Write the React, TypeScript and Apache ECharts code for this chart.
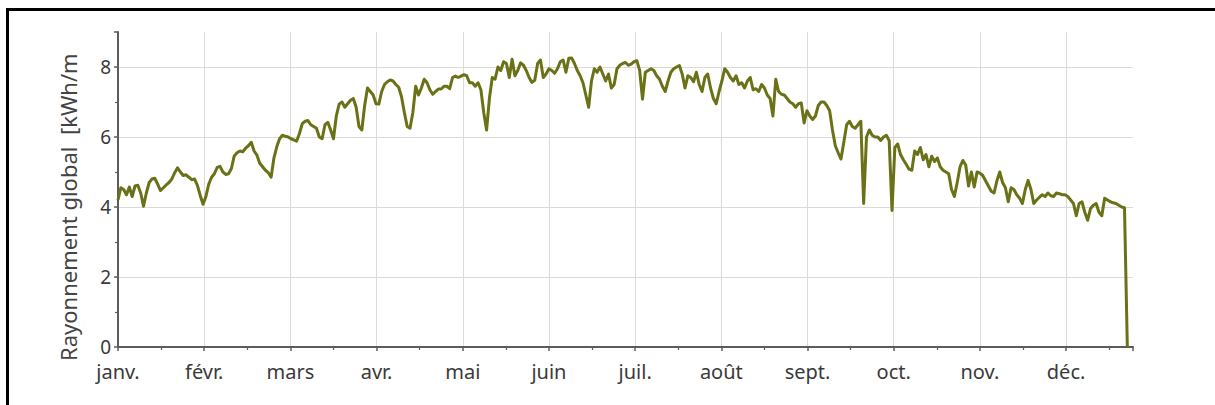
import { useEffect, useRef } from 'react';
import * as echarts from 'echarts';

// Daily global irradiation, kWh/m² per day, grouped by month
const janValues = [4.2, 4.55, 4.5, 4.35, 4.57, 4.3, 4.6, 4.62, 4.4, 4.02, 4.4, 4.7, 4.8, 4.82, 4.65, 4.47, 4.55, 4.63, 4.7, 4.8, 4.98, 5.12, 5.0, 4.9, 4.92, 4.85, 4.78, 4.8, 4.62, 4.33, 4.08];
const febValues = [4.3, 4.65, 4.85, 4.95, 5.13, 5.16, 5.0, 4.93, 4.95, 5.1, 5.46, 5.55, 5.6, 5.58, 5.68, 5.75, 5.85, 5.6, 5.48, 5.25, 5.15, 5.05, 4.98, 4.85, 5.4, 5.72, 5.95, 6.05, 6.02, 6.0];
const marValues = [5.95, 5.92, 5.88, 6.1, 6.38, 6.45, 6.47, 6.35, 6.3, 6.25, 6.0, 5.95, 6.35, 6.42, 6.2, 5.95, 6.6, 6.94, 7.0, 6.85, 6.95, 7.05, 7.1, 6.85, 6.3, 6.2, 6.9, 7.4, 7.3, 7.2, 6.95];
const aprValues = [6.94, 7.3, 7.5, 7.58, 7.63, 7.6, 7.5, 7.42, 7.15, 6.7, 6.3, 6.25, 6.7, 7.45, 7.2, 7.4, 7.65, 7.55, 7.35, 7.22, 7.3, 7.37, 7.37, 7.45, 7.45, 7.38, 7.7, 7.74, 7.7, 7.74];
const mayValues = [7.78, 7.75, 7.55, 7.55, 7.45, 7.55, 7.35, 6.7, 6.2, 7.1, 7.7, 7.65, 8.0, 7.9, 8.15, 8.1, 7.7, 8.22, 7.75, 7.9, 8.12, 8.05, 7.9, 7.7, 7.56, 7.62, 8.1, 8.2, 7.7, 7.8, 7.95];
const junValues = [7.9, 7.82, 7.95, 8.15, 8.2, 7.85, 8.25, 8.26, 8.1, 7.9, 7.75, 7.55, 7.2, 6.85, 7.6, 7.95, 7.85, 8.0, 7.8, 7.6, 7.8, 7.4, 7.5, 7.95, 8.05, 8.1, 8.13, 8.05, 8.08, 8.15];
const julValues = [8.18, 7.9, 7.08, 7.85, 7.9, 7.95, 7.9, 7.75, 7.65, 7.45, 7.3, 7.6, 7.85, 7.95, 8.0, 8.04, 7.8, 7.4, 7.75, 7.7, 7.58, 7.85, 7.5, 7.3, 7.7, 7.8, 7.4, 7.1, 6.95, 7.3];
const augValues = [7.6, 7.95, 7.85, 7.7, 7.6, 7.75, 7.5, 7.55, 7.4, 7.6, 7.7, 7.35, 7.38, 7.3, 7.5, 7.4, 7.2, 7.1, 6.6, 7.65, 7.3, 7.22, 7.2, 7.1, 7.0, 6.95, 6.85, 6.95, 6.97, 6.4];
const sepValues = [6.75, 6.6, 6.5, 6.6, 6.9, 7.0, 7.0, 6.9, 6.75, 6.2, 5.75, 5.55, 5.37, 5.85, 6.35, 6.45, 6.3, 6.25, 6.35, 6.45, 4.1, 6.0, 6.2, 6.05, 6.0, 6.0, 5.9, 6.0, 6.05, 5.9];
const octValues = [3.9, 5.7, 5.8, 5.5, 5.35, 5.22, 5.08, 5.05, 5.6, 5.5, 5.7, 5.35, 5.5, 5.15, 5.45, 5.3, 5.4, 5.15, 5.05, 5.0, 4.95, 4.5, 4.3, 4.7, 5.15, 5.33, 5.2, 4.6, 5.0, 4.57, 5.0];
const novValues = [4.97, 4.9, 4.75, 4.6, 4.45, 4.4, 4.75, 5.0, 4.7, 4.55, 4.15, 4.55, 4.5, 4.35, 4.25, 4.1, 4.5, 4.76, 4.5, 4.1, 4.2, 4.28, 4.35, 4.3, 4.4, 4.32, 4.3, 4.4, 4.38, 4.35];
const decValues = [4.35, 4.3, 4.2, 4.1, 3.75, 4.1, 4.15, 3.85, 3.62, 3.95, 4.05, 4.1, 3.85, 3.75, 4.25, 4.2, 4.15, 4.12, 4.1, 4.05, 4.0, 3.98, 0];

const monthLabels = ['janv.', 'févr.', 'mars', 'avr.', 'mai', 'juin', 'juil.', 'août', 'sept.', 'oct.', 'nov.', 'déc.'];
const monthStep = 30.4; // days between month ticks
const dayAxisMax = 358;
const yTicks = { min: 0, max: 9, interval: 2 };
const yAxisTitle = 'Rayonnement global  [kWh/m';

const FONT = '"Noto Sans", "Open Sans", sans-serif';
const AXIS_COLOR = '#5c5c5c';
const GRID_COLOR = '#dadada';
const LINE_COLOR = '#6b7116';

export default function App() {
  const ref = useRef<HTMLDivElement>(null);

  useEffect(() => {
    if (!ref.current) return;
    const chart = echarts.init(ref.current, null, { renderer: 'svg' });

    const daily = [
      ...janValues, ...febValues, ...marValues, ...aprValues, ...mayValues, ...junValues,
      ...julValues, ...augValues, ...sepValues, ...octValues, ...novValues, ...decValues,
    ];
    const seriesData = daily.map((v, i) => [i, v]);

    chart.setOption({
      animation: false,
      backgroundColor: '#ffffff',
      grid: { left: 118, right: 82, top: 32, bottom: 58, containLabel: false },
      xAxis: {
        type: 'value',
        min: 0,
        max: dayAxisMax,
        interval: monthStep,
        axisLine: { show: true, lineStyle: { color: AXIS_COLOR, width: 2 } },
        axisTick: { show: true, length: 4, lineStyle: { color: AXIS_COLOR, width: 1.5 } },
        minorTick: { show: true, splitNumber: 2, length: 3, lineStyle: { color: AXIS_COLOR, width: 1.2 } },
        splitLine: { show: true, showMinLine: false, showMaxLine: false, lineStyle: { color: GRID_COLOR, width: 1 } },
        minorSplitLine: { show: false },
        axisLabel: {
          show: true,
          showMaxLabel: false,
          margin: 14,
          fontSize: 20,
          lineHeight: 20,
          fontFamily: FONT,
          color: '#3a3a3a',
          formatter: (v: number) => {
            const idx = Math.round(v / monthStep);
            if (idx < 0 || idx >= monthLabels.length) return '';
            if (Math.abs(v - idx * monthStep) > 0.5) return '';
            return monthLabels[idx];
          },
        },
      },
      yAxis: {
        type: 'value',
        min: yTicks.min,
        max: yTicks.max,
        interval: yTicks.interval,
        axisLine: { show: true, lineStyle: { color: AXIS_COLOR, width: 2 } },
        axisTick: { show: true, length: 4, lineStyle: { color: AXIS_COLOR, width: 1.5 } },
        minorTick: { show: true, splitNumber: 2, length: 3, lineStyle: { color: AXIS_COLOR, width: 1.2 } },
        splitLine: { show: true, showMinLine: false, showMaxLine: false, lineStyle: { color: GRID_COLOR, width: 1 } },
        axisLabel: {
          showMaxLabel: false,
          margin: 7,
          fontSize: 19,
          lineHeight: 14,
          fontFamily: FONT,
          color: '#3a3a3a',
        },
      },
      series: [
        {
          type: 'line',
          data: seriesData,
          showSymbol: false,
          symbol: 'none',
          lineStyle: { color: LINE_COLOR, width: 3, join: 'round' },
          z: 3,
        },
      ],
      graphic: [
        {
          type: 'text',
          x: 68,
          y: 361,
          rotation: Math.PI / 2,
          style: {
            text: yAxisTitle,
            fontSize: 22,
            fontFamily: FONT,
            fill: '#444444',
            textAlign: 'left',
            textVerticalAlign: 'middle',
            align: 'left',
            verticalAlign: 'middle',
          },
        },
        { type: 'rect', shape: { x: 6, y: 8, width: 1209, height: 3 }, style: { fill: '#000000' } },
        { type: 'rect', shape: { x: 6, y: 8, width: 3, height: 397 }, style: { fill: '#000000' } },
      ],
    });

    return () => chart.dispose();
  }, []);

  return (
    <div
      ref={ref}
      style={{ position: 'fixed', left: 0, top: 0, width: 1215, height: 405, background: '#ffffff' }}
    />
  );
}
